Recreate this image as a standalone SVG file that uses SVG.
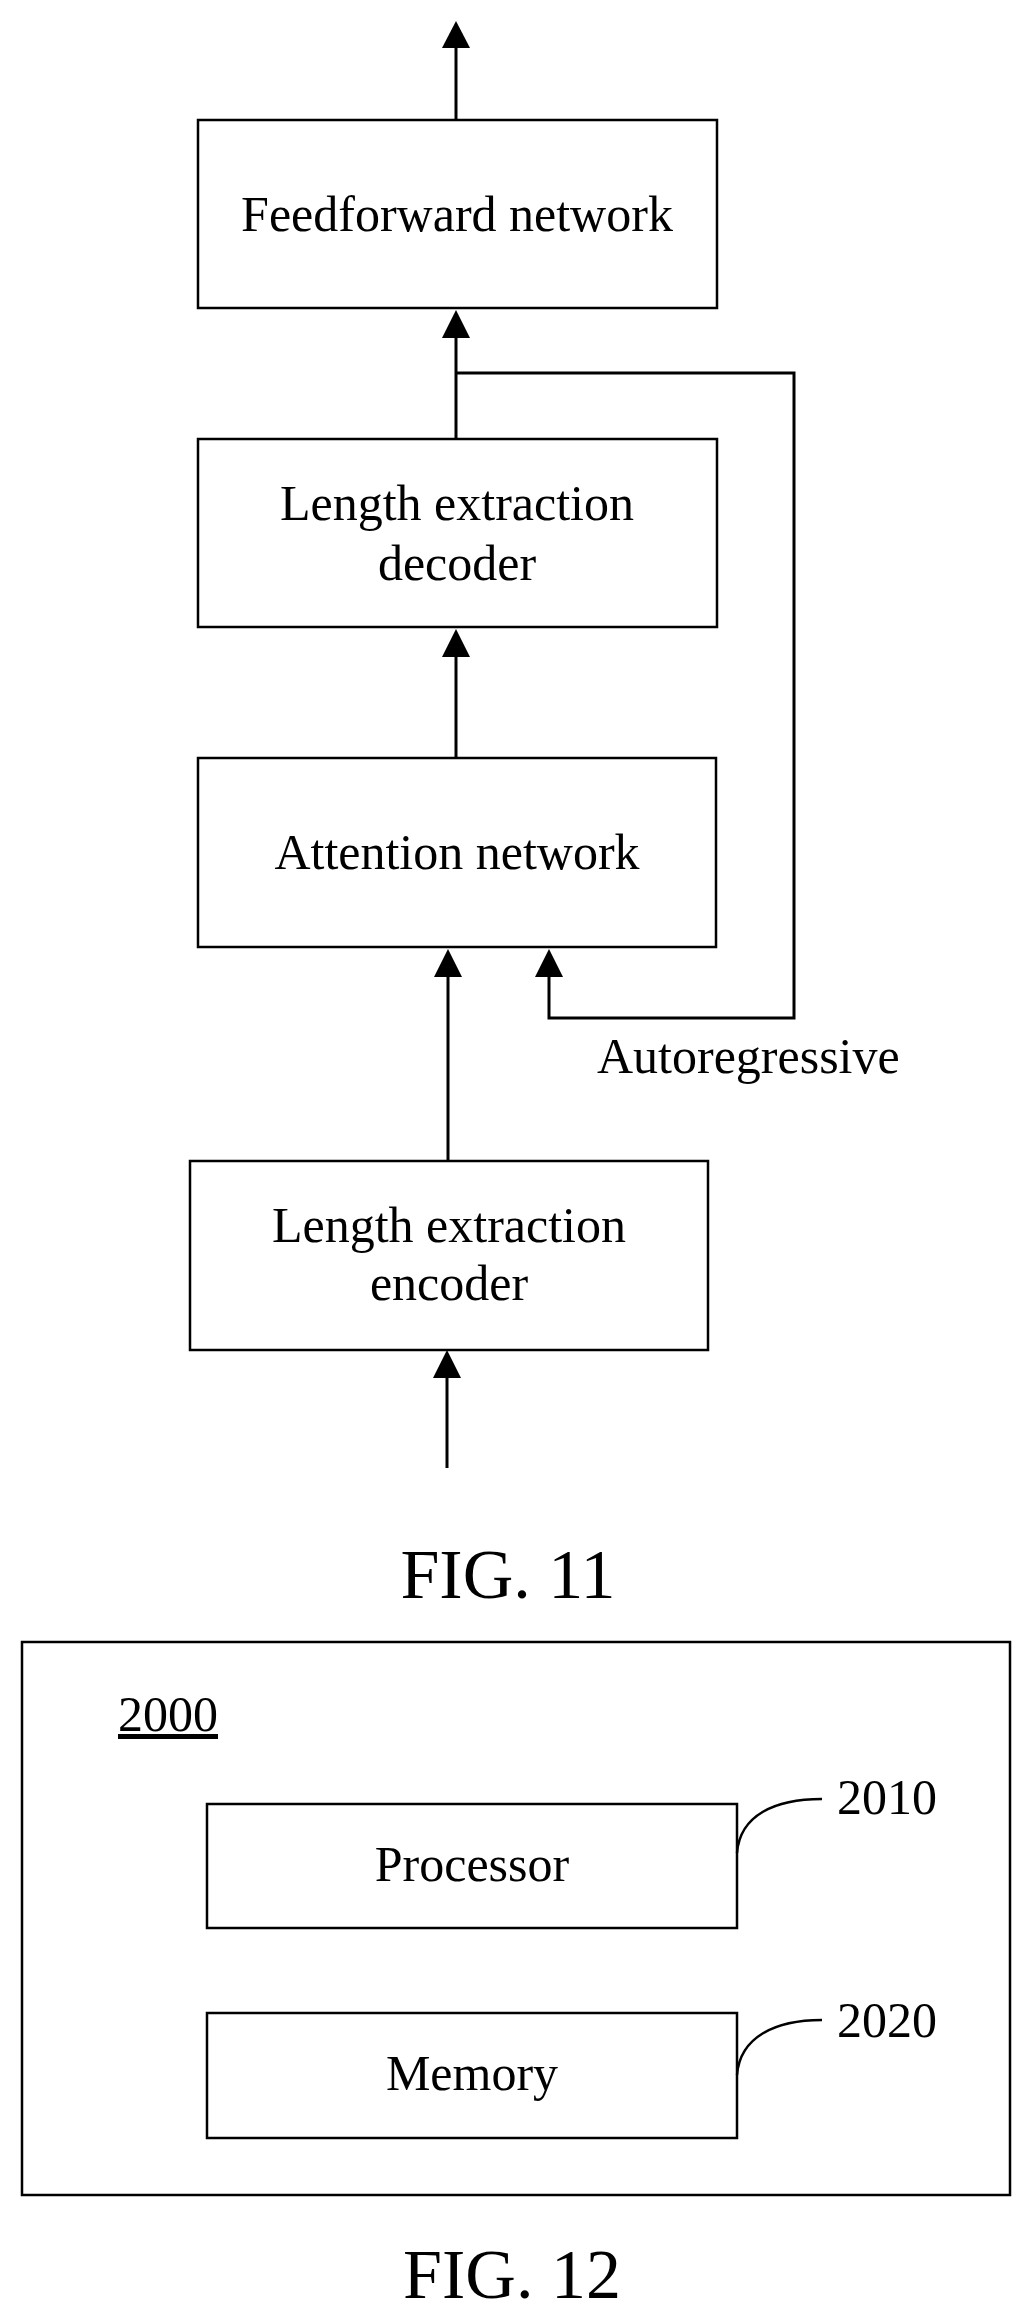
<svg xmlns="http://www.w3.org/2000/svg" width="1024" height="2318" viewBox="0 0 1024 2318">
<defs>
<style>
.b{fill:none;stroke:#000;stroke-width:2.5}
.l{fill:none;stroke:#000;stroke-width:3}
.t{font-family:"Liberation Serif",serif;font-size:50px;fill:#000;text-anchor:middle}
.n{font-family:"Liberation Serif",serif;font-size:50px;fill:#000}
.f{font-family:"Liberation Serif",serif;font-size:70px;fill:#000;text-anchor:middle}
.h{fill:#000}
</style>
</defs>
<rect width="1024" height="2318" fill="#fff"/>
<g id="connectors">
<line class="l" x1="456" y1="120" x2="456" y2="46"/><polygon class="h" points="456,21 442,48 470,48"/>
<line class="l" x1="456" y1="439" x2="456" y2="336"/><polygon class="h" points="456,310 442,338 470,338"/>
<polyline class="l" points="456,373 794,373 794,1018 549,1018 549,975"/>
<polygon class="h" points="549,949 535,977 563,977"/>
<line class="l" x1="456" y1="758" x2="456" y2="655"/><polygon class="h" points="456,629 442,657 470,657"/>
<line class="l" x1="448" y1="1161" x2="448" y2="975"/><polygon class="h" points="448,949 434,977 462,977"/>
<line class="l" x1="447" y1="1468" x2="447" y2="1376"/><polygon class="h" points="447,1350 433,1378 461,1378"/>
<path class="b" d="M737,1853 C740,1815 775,1799 822,1799"/>
<path class="b" d="M737,2075 C740,2037 775,2020 822,2020"/>
</g>
<g id="feedforward"><rect class="b" x="198" y="120" width="519" height="188"/><text class="t" x="457" y="231">Feedforward network</text></g>
<g id="decoder"><rect class="b" x="198" y="439" width="519" height="188"/><text class="t" x="457" y="520">Length extraction</text><text class="t" x="457" y="580">decoder</text></g>
<g id="attention"><rect class="b" x="198" y="758" width="518" height="189"/><text class="t" x="457" y="869">Attention network</text></g>
<g id="autoregressive"><text class="n" x="597" y="1073">Autoregressive</text></g>
<g id="encoder"><rect class="b" x="190" y="1161" width="518" height="189"/><text class="t" x="449" y="1242">Length extraction</text><text class="t" x="449" y="1300">encoder</text></g>
<text class="f" x="508" y="1598">FIG. 11</text>
<g id="device2000"><rect class="b" x="22" y="1642" width="988" height="553"/><text class="n" x="118" y="1731" text-decoration="underline">2000</text></g>
<g id="processor"><rect class="b" x="207" y="1804" width="530" height="124"/><text class="t" x="472" y="1881">Processor</text><text class="n" x="837" y="1814">2010</text></g>
<g id="memory"><rect class="b" x="207" y="2013" width="530" height="125"/><text class="t" x="472" y="2090">Memory</text><text class="n" x="837" y="2037">2020</text></g>
<text class="f" x="512" y="2298">FIG. 12</text>
</svg>
